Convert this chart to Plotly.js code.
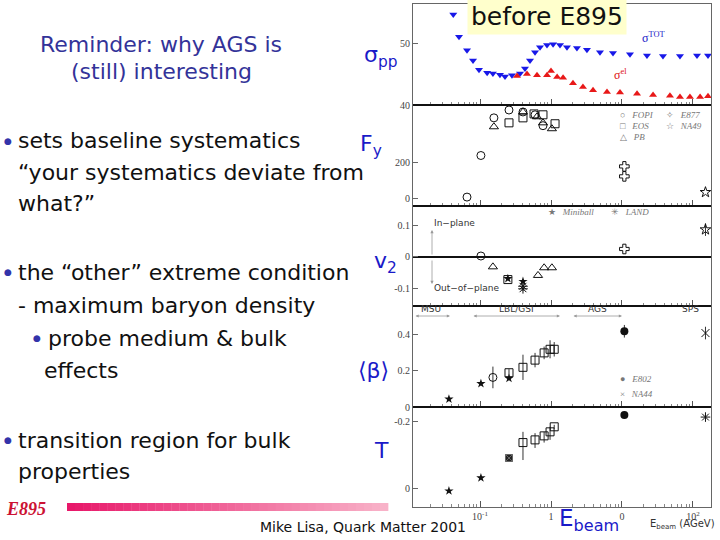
<!DOCTYPE html>
<html><head><meta charset="utf-8">
<script src="https://cdn.plot.ly/plotly-3.0.1.min.js"></script>
<style>body{margin:0;background:#fff}#c{width:720px;height:540px}</style>
</head><body><div id="c"></div>
<script>
// ---- data (E_beam in AGeV) ----
const sigTotE = [0.042,0.0506,0.0656,0.0797,0.0968,0.126,0.152,0.191,0.225,0.282,0.366,0.43,0.506,0.596,0.70,0.879,1.07,1.34,1.68,2.32,3.21,4.9,7.47,12.97,22.5,37.8,65.6,114,163];
const sigTot  = [54.6,51.0,48.85,47.2,45.7,45.2,45.1,44.9,44.6,44.8,45.1,45.9,47.2,48.5,49.3,49.7,49.8,49.7,49.3,49.2,48.9,48.5,48.4,48.2,48.0,47.9,47.9,48.0,48.0];
const sigElE  = [0.332,0.459,0.635,0.879,1.0,1.22,1.48,2.04,2.82,3.91,6.15,9.38,16.3,27.4,47.4,65.6,90.7,126,163];
const sigEl   = [44.7,45.0,44.8,44.8,45.5,44.5,44.4,43.5,42.9,42.4,42.1,42.0,41.8,41.6,41.5,41.3,41.3,41.3,41.4];

const fyFopiE = [0.0656,0.103,0.157,0.256,0.403,0.596,0.771];
const fyFopi  = [6,239,450,494,483,467,406];
const fyEosE  = [0.256,0.403,0.577,0.771,1.14];
const fyEos   = [422,450,472,467,417];
const fyPbE   = [0.157,0.403,0.635,0.771,1.03];
const fyPb    = [400,483,456,422,389];
const fyE877E = [10.8,10.8];
const fyE877  = [178,122];
const fyNa49E = [150];
const fyNa49  = [33];

const v2FopiE = [0.103];  const v2Fopi = [0.003];
const v2PbE   = [0.152,0.656,0.80,1.03];  const v2Pb = [-0.031,-0.058,-0.034,-0.034];
const v2EosE  = [0.247];  const v2Eos = [-0.071];
const v2MiniE = [0.247,0.403]; const v2Mini = [-0.068,-0.077];
const v2LandE = [0.403,0.403]; const v2Land = [-0.092,-0.1];
const v2E877E = [10.8];   const v2E877 = [0.025];
const v2Na49E = [150];    const v2Na49 = [0.086]; const v2Na49Err = [0.02];

const bMiniE = [0.0365,0.103,0.256]; const bMini = [0.044,0.13,0.159];
const bFopiE = [0.152]; const bFopi = [0.164]; const bFopiErr = [0.06];
const bEosE  = [0.256,0.403,0.596,0.80,0.97,1.11];
const bEos   = [0.19,0.22,0.26,0.30,0.32,0.32];
const bEosErr= [0.02,0.07,0.04,0.035,0.05,0.04];
const bE802E = [10.8]; const bE802 = [0.42]; const bE802Err = [0.035];
const bNa44E = [150];  const bNa44 = [0.41]; const bNa44Err = [0.035];

const tMiniE = [0.0365,0.103]; const tMini = [-3,16.4];
const tLandE = [0.256]; const tLand = [46];
const tEosE  = [0.403,0.596,0.80,0.97,1.11];
const tEos   = [69,73,79,85,92.5];
const tEosUp = [16,10,6,7.5,3];
const tEosDn = [26,12,10,12,3];
const tE802E = [10.8]; const tE802 = [110];
const tNa44E = [150];  const tNa44 = [107];

const xTickVals = [0.01,0.1,1,10,100];
const xTickText = ['10<sup>-2</sup>','10<sup>-1</sup>','1','0','10<sup>2</sup>'];
const xMinorVals = [];
[0.01,0.1,1,10,100].forEach(d => { for (let m=2;m<=9;m++) xMinorVals.push(d*m); });

// ---- layout helpers ----
const X = p => p/720, Y = p => 1 - p/540;
const panels = [[4,105],[105,206],[206,306],[306,407],[407,507]];
const tickFont = {family:'Liberation Serif', size:10, color:'#444'};
const traces = [];
function add(i, x, y, sym, opts){
  const t = Object.assign({type:'scatter', mode:'markers', x:x, y:y,
    xaxis:'x'+(i===1?'':i), yaxis:'y'+(i===1?'':i),
    marker:{symbol:sym, size:8, color:'#111', line:{color:'#111', width:1}}, showlegend:false, hoverinfo:'skip'}, opts||{});
  traces.push(t);
}
// sigma panel
add(1, sigTotE, sigTot, 'triangle-down', {marker:{symbol:'triangle-down', size:7, color:'#1818E8'}});
add(1, sigElE, sigEl, 'triangle-up', {marker:{symbol:'triangle-up', size:7, color:'#E81818'}});
// Fy
add(2, fyFopiE, fyFopi, 'circle-open');
add(2, fyEosE, fyEos, 'square-open');
add(2, fyPbE, fyPb, 'triangle-up-open');
add(2, fyE877E, fyE877, 'cross-open');
add(2, fyNa49E, fyNa49, 'star-open');
// v2
add(3, v2FopiE, v2Fopi, 'circle-open');
add(3, v2PbE, v2Pb, 'triangle-up-open');
add(3, v2EosE, v2Eos, 'square-open');
add(3, v2MiniE, v2Mini, 'star', {marker:{symbol:'star', size:7, color:'#111'}});
add(3, v2LandE, v2Land, 'asterisk-open');
add(3, v2E877E, v2E877, 'cross-open');
add(3, v2Na49E, v2Na49, 'star-open', {error_y:{type:'data', array:v2Na49Err, width:0, thickness:1, color:'#333'}});
// beta
add(4, bMiniE, bMini, 'star', {marker:{symbol:'star', size:7, color:'#111'}});
add(4, bFopiE, bFopi, 'circle-open', {error_y:{type:'data', array:bFopiErr, width:0, thickness:1, color:'#333'}});
add(4, bEosE, bEos, 'square-open', {error_y:{type:'data', array:bEosErr, width:0, thickness:1, color:'#333'}});
add(4, bE802E, bE802, 'circle', {marker:{symbol:'circle', size:8, color:'#111'}, error_y:{type:'data', array:bE802Err, width:0, thickness:1, color:'#333'}});
add(4, bNa44E, bNa44, 'x-thin-open', {error_y:{type:'data', array:bNa44Err, width:0, thickness:1, color:'#333'}});
// T
add(5, tMiniE, tMini, 'star', {marker:{symbol:'star', size:7, color:'#111'}});
add(5, tLandE, tLand, 'square-x', {marker:{symbol:'square-x', size:7, color:'#222', line:{color:'#666',width:1}}});
add(5, tEosE, tEos, 'square-open', {error_y:{type:'data', symmetric:false, array:tEosUp, arrayminus:tEosDn, width:0, thickness:1, color:'#333'}});
add(5, tE802E, tE802, 'circle', {marker:{symbol:'circle', size:8, color:'#111'}});
add(5, tNa44E, tNa44, 'asterisk-open');

const layout = {width:720, height:540, margin:{l:0,r:0,t:0,b:0}, paper_bgcolor:'#fff', plot_bgcolor:'#fff', showlegend:false};
const yRanges = [[40,56.3],[-44,522],[-0.154,0.16],[0,0.56],[-27,122]];
const yTicks = [[40,50],[0,200],[-0.1,0,0.1],[0,0.2,0.4],[0,100]];
const yTickText = [['40','50'],['0','200'],['-0.1','0','0.1'],['0','0.2','0.4'],['0','-0.2']];
for (let i=1;i<=5;i++){
  const s = i===1?'':i;
  const [top,bot] = panels[i-1];
  layout['xaxis'+s] = {type:'log', range:[-1.944,2.254], domain:[X(413),X(711)], anchor:'y'+s,
    matches: i===1?undefined:'x', showline:true, mirror:true, linecolor:'#666', linewidth:1,
    ticks:'inside', ticklen:6, tickcolor:'#555', tickvals:xTickVals, ticktext:xTickText,
    showticklabels: i===5, tickfont:tickFont, showgrid:false, zeroline:false,
    minor:{tickmode:'array', tickvals:xMinorVals, ticks:'inside', ticklen:3, tickcolor:'#888', showgrid:false}};
  layout['yaxis'+s] = {range:yRanges[i-1], domain:[Y(bot),Y(top)], anchor:'x'+s,
    showline:true, mirror:true, linecolor:'#666', ticks:'inside', ticklen:5, tickcolor:'#666',
    tickvals:yTicks[i-1], ticktext:yTickText[i-1], tickfont:tickFont, showgrid:false,
    zeroline: i===3, zerolinecolor:'#111', zerolinewidth:1.5};
}

const blue = '#1a1ac8';
const txtFont = {family:'DejaVu Sans', size:22, color:'#111'};
const ann = [];
function A(text, px, py, o){ ann.push(Object.assign({text:text, x:X(px), y:Y(py), xref:'paper', yref:'paper', showarrow:false, xanchor:'left', yanchor:'middle', font:txtFont}, o||{})); }
// left text
const ttl = {family:'DejaVu Sans', size:22, color:'#333399'};
A('Reminder: why AGS is', 161, 44, {xanchor:'center', font:ttl});
A('(still) interesting', 161, 72, {xanchor:'center', font:ttl});
const dot = {family:'DejaVu Sans', size:9, color:'#3333aa'};
A('●', 2, 141, {font:dot});
A('sets baseline systematics', 16, 141);
A('“your systematics deviate from', 16, 172);
A('what?”', 16, 203);
A('●', 2, 272, {font:dot});
A('the “other” extreme condition', 16, 272);
A('- maximum baryon density', 16, 305);
A('●', 31, 338, {font:dot});
A('probe medium &amp; bulk', 46, 338);
A('effects', 42, 370);
A('●', 2, 440, {font:dot});
A('transition region for bulk', 16, 440);
A('properties', 16, 471);
A('<b><i>E895</i></b>', 4, 509, {font:{family:'Liberation Serif', size:18, color:'#cc1133'}});
A('Mike Lisa, Quark Matter 2001', 258, 527, {font:{family:'DejaVu Sans', size:14, color:'#111'}});
// axis titles
const at = {family:'DejaVu Sans', size:22, color:blue};
A('σ<sub>pp</sub>', 362, 57, {font:at});
A('F<sub>y</sub>', 358, 145, {font:at});
A('v<sub>2</sub>', 372, 262, {font:at});
A('⟨β⟩', 356, 370, {font:at});
A('T', 372, 450, {font:at});
A('E<sub>beam</sub>', 557, 520, {font:{family:'DejaVu Sans', size:23, color:blue}});
A('E<sub>beam</sub> (AGeV)', 648, 524, {font:{family:'DejaVu Sans', size:10, color:'#333'}});
// top panel labels
A('before E895', 467, 17, {font:{family:'DejaVu Sans', size:25, color:'#111'}, bgcolor:'#ffffcc', borderpad:3, xanchor:'left'});
A('σ<sup>TOT</sup>', 640, 37, {font:{family:'Liberation Serif', size:12, color:blue}});
A('σ<sup>el</sup>', 612, 75, {font:{family:'Liberation Serif', size:12, color:'#dd1111'}});
// legends
const lf = {family:'Liberation Serif', size:9, color:'#777'};
A('○   <i>FOPI</i>', 618, 115, {font:lf});
A('□   <i>EOS</i>', 618, 126, {font:lf});
A('△   <i>PB</i>', 618, 137, {font:lf});
A('✧   <i>E877</i>', 664, 115, {font:lf});
A('☆   <i>NA49</i>', 664, 126, {font:lf});
A('★   <i>Miniball</i>', 546, 212, {font:lf});
A('✳   <i>LAND</i>', 609, 212, {font:lf});
A('●   <i>E802</i>', 618, 379, {font:lf});
A('×   <i>NA44</i>', 618, 394, {font:lf});
A('In−plane', 432, 223, {font:{family:'DejaVu Sans', size:9, color:'#333'}});
A('Out−of−plane', 432, 288, {font:{family:'DejaVu Sans', size:9, color:'#333'}});
A('MSU', 431, 309, {xanchor:'center', font:{family:'DejaVu Sans', size:9, color:'#333'}});
A('LBL/GSI', 516, 309, {xanchor:'center', font:{family:'DejaVu Sans', size:9, color:'#333'}});
A('AGS', 597, 309, {xanchor:'center', font:{family:'DejaVu Sans', size:9, color:'#333'}});
A('SPS', 690, 309, {xanchor:'center', font:{family:'DejaVu Sans', size:9, color:'#333'}});
// arrows
function arr(x0,y0,x1,y1,both){ ann.push({x:X(x1), y:Y(y1), ax:X(x0), ay:Y(y0), axref:'paper', ayref:'paper', xref:'paper', yref:'paper', text:'', showarrow:true, arrowhead:2, arrowsize:0.8, arrowwidth:0.8, arrowcolor:'#999', arrowside: both?'end+start':'end'}); }
arr(432,256,432,230);
arr(432,259,432,284);
arr(414,316,450,316,true);
arr(472,316,560,316,true);
arr(572,316,622,316,true);
layout.annotations = ann;

// shapes: separators + gradient bar
const shapes = [];
[105,206,306,407].forEach(py => shapes.push({type:'line', xref:'paper', yref:'paper', x0:X(413), x1:X(711), y0:Y(py), y1:Y(py), line:{color:'#111', width:2}}));
const n = 40, c0=[232,24,106], c1=[248,178,200];
for (let k=0;k<n;k++){
  const f=k/(n-1), c=c0.map((v,j)=>Math.round(v+(c1[j]-v)*f));
  shapes.push({type:'rect', xref:'paper', yref:'paper', x0:X(67+(388-67)*k/n), x1:X(67+(388-67)*(k+1)/n)+0.0005, y0:Y(511), y1:Y(503), line:{width:0}, fillcolor:'rgb('+c.join(',')+')'});
}
layout.shapes = shapes;

Plotly.newPlot('c', traces, layout, {staticPlot:true, displayModeBar:false});
</script></body></html>
